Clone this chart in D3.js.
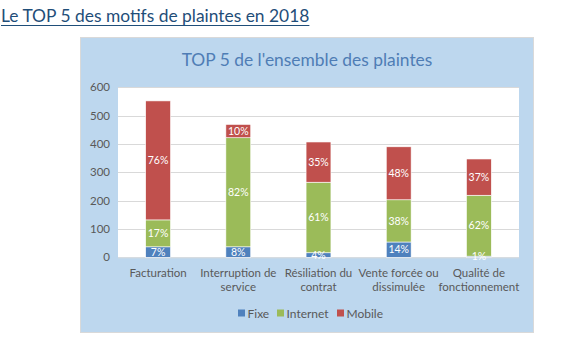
<!DOCTYPE html>
<html>
<head>
<meta charset="utf-8">
<script src="https://cdn.jsdelivr.net/npm/d3@7"></script>
<style>
  body { margin: 0; background: #fff; }
  svg { display: block; font-family: Lato, "Open Sans", sans-serif; }
</style>
</head>
<body>
<div id="chart"></div>
<script>
const categories = ["Facturation", "Interruption de service", "Résiliation du contrat", "Vente forcée ou dissimulée", "Qualité de fonctionnement"];
const categoryLines = [["Facturation"], ["Interruption de", "service"], ["Résiliation du", "contrat"], ["Vente forcée ou", "dissimulée"], ["Qualité de", "fonctionnement"]];
const series = ["Fixe", "Internet", "Mobile"];
const fixe = [37, 37, 16, 54, 4];
const internet = [95, 385, 249, 149, 215];
const mobile = [420, 47, 142, 187, 128];
const yTicks = [0, 100, 200, 300, 400, 500, 600];

const W = 577, H = 353;
const color = d3.scaleOrdinal(series, ["#4F81BD", "#9BBB59", "#C0504D"]);

const rows = categories.map((c, i) => ({ cat: c, Fixe: fixe[i], Internet: internet[i], Mobile: mobile[i] }));
const stacked = d3.stack().keys(series)(rows);

const svg = d3.select("#chart").append("svg")
  .attr("width", W).attr("height", H);

// page heading, underlined to the text width
const heading = svg.append("text")
  .attr("x", 1).attr("y", 22)
  .attr("fill", "#1F4E79")
  .style("font-size", "17.4px")
  .text("Le TOP 5 des motifs de plaintes en 2018");
const hw = heading.node().getComputedTextLength();
svg.append("line")
  .attr("x1", 1).attr("x2", 1 + hw).attr("y1", 25.5).attr("y2", 25.5)
  .attr("stroke", "#1F4E79").attr("stroke-width", 1.2);

// chart box
svg.append("rect")
  .attr("x", 80.5).attr("y", 37.5).attr("width", 453).attr("height", 295)
  .attr("fill", "#BDD7EE").attr("stroke", "#D9D9D9");

svg.append("text")
  .attr("x", 307).attr("y", 66)
  .attr("text-anchor", "middle")
  .attr("fill", "#4F7DB5")
  .style("font-size", "17.4px")
  .text("TOP 5 de l'ensemble des plaintes");

const plot = { left: 118, right: 519, top: 87.3, bottom: 257.3 };

const x = d3.scaleBand().domain(categories).range([plot.left, plot.right]).paddingInner(0.69).paddingOuter(0.345);
const y = d3.scaleLinear().domain([0, 600]).range([plot.bottom, plot.top]);

svg.append("rect")
  .attr("x", plot.left).attr("y", plot.top)
  .attr("width", plot.right - plot.left).attr("height", plot.bottom - plot.top)
  .attr("fill", "#fff");

// gridlines
svg.append("g").selectAll("line")
  .data(yTicks.slice(1))
  .join("line")
  .attr("x1", plot.left).attr("x2", plot.right)
  .attr("y1", d => Math.round(y(d)) + 0.5).attr("y2", d => Math.round(y(d)) + 0.5)
  .attr("stroke", "#D9D9D9");

// y axis labels
const yAxis = d3.axisLeft(y).tickValues(yTicks).tickSize(0).tickPadding(8);
const gy = svg.append("g").attr("transform", `translate(${plot.left},0)`).call(yAxis);
gy.select(".domain").remove();
gy.selectAll("text").attr("fill", "#595959").style("font-size", "11.5px").style("font-family", "Lato, 'Open Sans', sans-serif");

// baseline
svg.append("line")
  .attr("x1", plot.left).attr("x2", plot.right)
  .attr("y1", plot.bottom + 0.5).attr("y2", plot.bottom + 0.5)
  .attr("stroke", "#D9D9D9");

// bars
const layers = svg.append("g").selectAll("g")
  .data(stacked)
  .join("g")
  .attr("fill", d => color(d.key));

layers.selectAll("rect")
  .data(d => d)
  .join("rect")
  .attr("x", d => x(d.data.cat))
  .attr("width", x.bandwidth())
  .attr("y", d => y(d[1]))
  .attr("height", d => y(d[0]) - y(d[1]))
  .attr("stroke", "#fff").attr("stroke-width", 0.6);

// percentage labels, drawn above everything
const labels = svg.append("g").selectAll("g")
  .data(stacked)
  .join("g");
labels.selectAll("text")
  .data(d => d)
  .join("text")
  .attr("x", d => x(d.data.cat) + x.bandwidth() / 2)
  .attr("y", d => Math.min((y(d[0]) + y(d[1])) / 2, plot.bottom))
  .attr("dy", "0.35em")
  .attr("text-anchor", "middle")
  .attr("fill", "#fff")
  .style("font-size", "10.5px")
  .text(d => {
    const total = d.data.Fixe + d.data.Internet + d.data.Mobile;
    return Math.round((d[1] - d[0]) / total * 100) + "%";
  });

// category labels
const xl = svg.append("g").selectAll("text")
  .data(categories)
  .join("text")
  .attr("x", d => x(d) + x.bandwidth() / 2)
  .attr("y", 277)
  .attr("text-anchor", "middle")
  .attr("fill", "#595959")
  .style("font-size", "11.5px");
xl.selectAll("tspan")
  .data((d, i) => categoryLines[i])
  .join("tspan")
  .attr("x", function () { return d3.select(this.parentNode).attr("x"); })
  .attr("dy", (d, i) => i === 0 ? 0 : 14)
  .text(d => d);

// legend
const legendX = [238, 277, 337];
const legend = svg.append("g").selectAll("g")
  .data(series)
  .join("g")
  .attr("transform", (d, i) => `translate(${legendX[i]},314)`);
legend.append("rect")
  .attr("x", 0).attr("y", -4.5).attr("width", 7).attr("height", 7)
  .attr("fill", d => color(d));
legend.append("text")
  .attr("x", 9.5).attr("y", 0).attr("dy", "0.35em")
  .attr("fill", "#595959")
  .style("font-size", "12px")
  .text(d => d);
</script>
</body>
</html>
